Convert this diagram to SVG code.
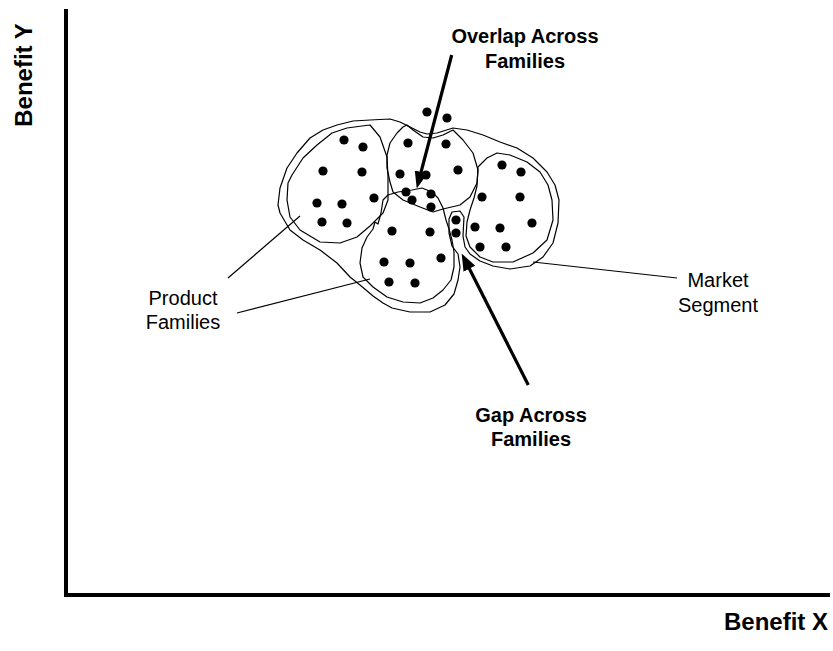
<svg xmlns="http://www.w3.org/2000/svg" width="833" height="651" viewBox="0 0 833 651">
  <style>
    .bg { fill: #ffffff; }
    .axis { stroke: #000; stroke-width: 4; fill: none; }
    .blob { fill: none; stroke: #000; stroke-width: 1.2; stroke-linejoin: round; }
    .leader { stroke: #000; stroke-width: 1.2; fill: none; }
    .arrow { stroke: #000; stroke-width: 3.2; fill: none; marker-end: url(#head); }
    .dot { fill: #000; }
    .bold { font-family: "Liberation Sans", Arial, sans-serif; font-weight: bold; font-size: 20px; fill: #000; text-anchor: middle; }
    .reg { font-family: "Liberation Sans", Arial, sans-serif; font-size: 20px; fill: #000; text-anchor: middle; }
    .axislabel { font-family: "Liberation Sans", Arial, sans-serif; font-weight: bold; font-size: 24px; fill: #000; }
  </style>
  <defs>
    <marker id="head" viewBox="0 0 17 13" refX="1" refY="6.5" markerWidth="17" markerHeight="13" markerUnits="userSpaceOnUse" orient="auto">
      <path d="M0,0 L17,6.5 L0,13 z" fill="#000"/>
    </marker>
  </defs>

  <rect class="bg" x="0" y="0" width="833" height="651"/>

  <!-- axes -->
  <g id="axes">
    <line class="axis" x1="66" y1="9" x2="66" y2="597"/>
    <line class="axis" x1="64" y1="595" x2="830" y2="595"/>
    <text class="axislabel" transform="translate(32,75) rotate(-90)" text-anchor="middle">Benefit Y</text>
    <text class="axislabel" x="828" y="630" text-anchor="end">Benefit X</text>
  </g>

  <!-- market segment outline enclosing all families, notched at the gap -->
  <g id="market-segment">
    <polygon class="blob" points="360,285 373,296 383,303 392,308 410,312 430,312 445,305 454,294 458,280 460,267 458,254 452,246 449,233 449,219 452,212 460,211 464,217 463,236 465,247 470,254 480,261 493,266 510,269 530,266 543,257 553,243 558,223 559,200 555,185 547,172 533,158 517,148 500,142 483,135 467,130 453,128 437,133 427,134 420,132 410,127 400,122 390,119 370,120 353,121 337,125 323,130 310,138 297,153 287,168 280,188 278,205 280,213 290,230 303,240 320,250 337,263 350,277"/>
  </g>

  <!-- product family: left -->
  <g id="family-left">
    <polygon class="blob" points="288,183 287,200 290,217 300,230 320,242 340,243 357,237 370,226 383,213 388,200 388,177 387,157 380,137 370,125 362,126 347,128 332,133 317,145 303,158 292,175"/>
    <circle class="dot" cx="344" cy="140" r="4.6"/>
    <circle class="dot" cx="363" cy="147" r="4.6"/>
    <circle class="dot" cx="323" cy="171" r="4.6"/>
    <circle class="dot" cx="362" cy="172" r="4.6"/>
    <circle class="dot" cx="317" cy="203" r="4.6"/>
    <circle class="dot" cx="342" cy="204" r="4.6"/>
    <circle class="dot" cx="374" cy="198" r="4.6"/>
    <circle class="dot" cx="322" cy="222" r="4.6"/>
    <circle class="dot" cx="347" cy="223" r="4.6"/>
  </g>

  <!-- product family: top -->
  <g id="family-top">
    <polygon class="blob" points="403,127 397,133 390,143 387,155 387,168 390,182 393,192 403,200 420,207 433,212 443,209 460,205 470,197 477,183 478,170 473,153 463,140 453,130 443,135 433,138 423,137 413,130 407,125"/>
    <circle class="dot" cx="408" cy="143" r="4.6"/>
    <circle class="dot" cx="446" cy="144" r="4.6"/>
    <circle class="dot" cx="400" cy="174" r="4.6"/>
    <circle class="dot" cx="426" cy="175" r="4.6"/>
    <circle class="dot" cx="458" cy="170" r="4.6"/>
  </g>

  <!-- product family: bottom (its top edge closes the overlap) -->
  <g id="family-bottom">
    <polygon class="blob" points="383,200 388,195 398,192 412,190 422,188 432,192 438,198 443,208 446,220 449,229 452,240 454,252 454,267 451,280 443,290 433,298 420,303 403,302 387,297 373,287 363,277 360,263 362,248 367,237 373,229 375,222 378,224 381,213"/>
    <circle class="dot" cx="392" cy="231" r="4.6"/>
    <circle class="dot" cx="430" cy="232" r="4.6"/>
    <circle class="dot" cx="384" cy="262" r="4.6"/>
    <circle class="dot" cx="410" cy="263" r="4.6"/>
    <circle class="dot" cx="441" cy="258" r="4.6"/>
    <circle class="dot" cx="389" cy="282" r="4.6"/>
    <circle class="dot" cx="415" cy="283" r="4.6"/>
  </g>

  <!-- overlap of top and bottom families -->
  <g id="overlap">
    <circle class="dot" cx="406" cy="192" r="4.6"/>
    <circle class="dot" cx="412" cy="200" r="4.6"/>
    <circle class="dot" cx="431" cy="194" r="4.6"/>
    <circle class="dot" cx="431" cy="207" r="4.6"/>
  </g>

  <!-- product family: right -->
  <g id="family-right">
    <polygon class="blob" points="478,167 487,158 497,153 510,155 527,162 540,172 548,185 552,200 553,220 547,240 533,253 513,262 493,262 480,257 470,247 466,236 467,222 470,210 474,198 477,186"/>
    <circle class="dot" cx="502" cy="165" r="4.6"/>
    <circle class="dot" cx="521" cy="172" r="4.6"/>
    <circle class="dot" cx="482" cy="197" r="4.6"/>
    <circle class="dot" cx="520" cy="197" r="4.6"/>
    <circle class="dot" cx="475" cy="227" r="4.6"/>
    <circle class="dot" cx="500" cy="228" r="4.6"/>
    <circle class="dot" cx="532" cy="223" r="4.6"/>
    <circle class="dot" cx="480" cy="247" r="4.6"/>
    <circle class="dot" cx="506" cy="247" r="4.6"/>
  </g>

  <!-- points between families -->
  <g id="gap">
    <circle class="dot" cx="456" cy="220" r="4.6"/>
    <circle class="dot" cx="456" cy="233" r="4.6"/>
  </g>
  <g id="outliers">
    <circle class="dot" cx="427" cy="112" r="4.6"/>
    <circle class="dot" cx="447" cy="118" r="4.6"/>
  </g>

  <!-- connectors: callout arrows and leader lines -->
  <g id="connectors">
    <line class="arrow" x1="451.7" y1="55" x2="420.8" y2="173"/>
    <line class="arrow" x1="528.3" y1="385" x2="468.9" y2="267.8"/>
    <line class="leader" x1="228" y1="278" x2="300" y2="216"/>
    <line class="leader" x1="237" y1="313" x2="370" y2="279"/>
    <line class="leader" x1="533" y1="262" x2="677" y2="278"/>
  </g>

  <!-- labels -->
  <g id="label-overlap">
    <text class="bold" x="525" y="43">Overlap Across</text>
    <text class="bold" x="525" y="68">Families</text>
  </g>
  <g id="label-gap">
    <text class="bold" x="531" y="422">Gap Across</text>
    <text class="bold" x="531" y="446">Families</text>
  </g>
  <g id="label-families">
    <text class="reg" x="183" y="305">Product</text>
    <text class="reg" x="183" y="329">Families</text>
  </g>
  <g id="label-segment">
    <text class="reg" x="718" y="287">Market</text>
    <text class="reg" x="718" y="312">Segment</text>
  </g>
</svg>
